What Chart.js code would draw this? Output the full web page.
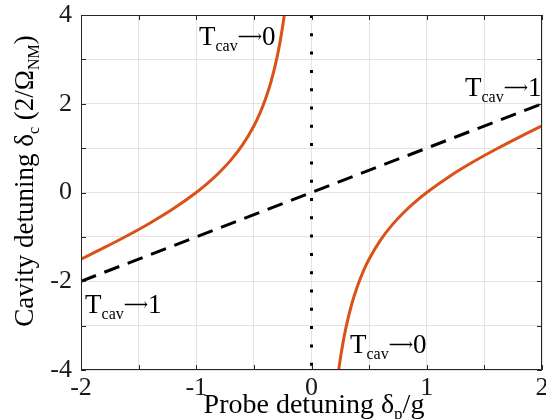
<!DOCTYPE html>
<html><head><meta charset="utf-8">
<script src="https://cdn.jsdelivr.net/npm/chart.js@4/dist/chart.umd.min.js"></script>
<style>html,body{margin:0;padding:0;background:#fff}#wrap{width:546px;height:419px}</style>
</head><body><div id="wrap"><canvas id="c" width="546" height="419"></canvas></div>
<script>
// Orange curve (two branches)
const leftX  = [-2, -1.8, -1.6, -1.4, -1.2, -1, -0.9, -0.8, -0.7, -0.6, -0.5, -0.45, -0.4, -0.35, -0.3, -0.27, -0.25, -0.236];
const leftY  = [-1.5, -1.244, -0.975, -0.686, -0.367, 0, 0.211, 0.45, 0.729, 1.067, 1.5, 1.772, 2.1, 2.507, 3.033, 3.434, 3.75, 4.0];
const rightX = [0.236, 0.25, 0.27, 0.3, 0.35, 0.4, 0.45, 0.5, 0.6, 0.7, 0.8, 0.9, 1, 1.2, 1.4, 1.6, 1.8, 2];
const rightY = [-4.0, -3.75, -3.434, -3.033, -2.507, -2.1, -1.772, -1.5, -1.067, -0.729, -0.45, -0.211, 0, 0.367, 0.686, 0.975, 1.244, 1.5];
// Dashed line
const dashX = [-2, 2];
const dashY = [-2, 2];
// Dotted vertical line
const dotX = [0, 0];
const dotY = [4, -4];
// Tick labels
const xTickLabels = [-2, -1, 0, 1, 2];
const yTickLabels = [-4, -2, 0, 2, 4];
// Annotations: [x, y, tail]
const annotations = [
  [-0.976, 3.324, '0'],
  [1.332, 2.175, '1'],
  [-1.965, -2.715, '1'],
  [0.334, -3.617, '0']
];

const FONT = '"Liberation Serif", "Times New Roman", serif';
const pts = (xs, ys) => xs.map((x, i) => ({x, y: ys[i]}));

function drawParts(ctx, x, y, parts) {
  let cx = x;
  for (const p of parts) {
    ctx.font = p.size + 'px ' + (p.font || FONT);
    ctx.fillText(p.t, cx, y + (p.dy || 0));
    cx += ctx.measureText(p.t).width;
  }
  return cx - x;
}
function partsWidth(ctx, parts) {
  let w = 0;
  for (const p of parts) { ctx.font = p.size + 'px ' + (p.font || FONT); w += ctx.measureText(p.t).width; }
  return w;
}

const decor = {
  id: 'decor',
  afterDatasetsDraw(chart) {
    const ctx = chart.ctx, a = chart.chartArea, xs = chart.scales.x, ys = chart.scales.y;
    ctx.save();
    // frame and inner ticks
    ctx.strokeStyle = '#262626';
    ctx.lineWidth = 1;
    ctx.beginPath();
    ctx.rect(a.left + 0.5, a.top + 0.5, a.right - a.left - 1, a.bottom - a.top - 1);
    ctx.stroke();
    ctx.beginPath();
    for (let v = -2; v <= 2.001; v += 0.5) {
      const px = Math.round(xs.getPixelForValue(v)) + 0.5;
      ctx.moveTo(px, a.bottom); ctx.lineTo(px, a.bottom - 5);
      ctx.moveTo(px, a.top); ctx.lineTo(px, a.top + 5);
    }
    for (let v = -4; v <= 4.001; v += 1) {
      const py = Math.round(ys.getPixelForValue(v)) + 0.5;
      ctx.moveTo(a.left, py); ctx.lineTo(a.left + 5, py);
      ctx.moveTo(a.right, py); ctx.lineTo(a.right - 5, py);
    }
    ctx.stroke();
    // annotations
    ctx.fillStyle = '#000';
    ctx.textBaseline = 'alphabetic';
    ctx.textAlign = 'left';
    for (const [x, y, tail] of annotations) {
      drawParts(ctx, xs.getPixelForValue(x), ys.getPixelForValue(y), [
        {t: 'T', size: 27}, {t: 'cav', size: 16, dy: 6},
        {t: '\u27F6', size: 17, dy: -3, font: '"DejaVu Serif", "DejaVu Sans", serif'},
        {t: tail, size: 27}
      ]);
    }
    // x title
    const xParts = [{t: 'Probe detuning \u03B4', size: 28}, {t: 'p', size: 17, dy: 6}, {t: '/g', size: 28}];
    const xw = partsWidth(ctx, xParts);
    drawParts(ctx, 314 - xw / 2, 413, xParts);
    // y title
    const yParts = [{t: 'Cavity detuning \u03B4', size: 27}, {t: 'c', size: 16, dy: 6}, {t: ' (2/\u03A9', size: 27}, {t: 'NM', size: 16, dy: 6}, {t: ')', size: 27}];
    const yw = partsWidth(ctx, yParts);
    ctx.translate(33, 181);
    ctx.rotate(-Math.PI / 2);
    drawParts(ctx, -yw / 2, 0, yParts);
    ctx.restore();
  }
};

new Chart(document.getElementById('c'), {
  type: 'scatter',
  data: {
    datasets: [
      {data: pts(dotX, dotY), showLine: true, borderColor: '#000', borderWidth: 3, borderDash: [3, 15.3], pointRadius: 0, borderCapStyle: 'butt'},
      {data: pts(dashX, dashY), showLine: true, borderColor: '#000', borderWidth: 3, borderDash: [16, 9], pointRadius: 0},
      {data: pts(leftX, leftY), showLine: true, borderColor: '#D95319', borderWidth: 3, pointRadius: 0, cubicInterpolationMode: 'monotone'},
      {data: pts(rightX, rightY), showLine: true, borderColor: '#D95319', borderWidth: 3, pointRadius: 0, cubicInterpolationMode: 'monotone'}
    ]
  },
  options: {
    responsive: false,
    animation: false,
    events: [],
    layout: {padding: {top: 15, right: 4, left: 0, bottom: 0}},
    plugins: {legend: {display: false}, tooltip: {enabled: false}},
    scales: {
      x: {
        type: 'linear', min: -2, max: 2,
        border: {display: false},
        grid: {color: '#e3e3e3', drawTicks: false, lineWidth: 1},
        ticks: {stepSize: 0.5, padding: 3, color: '#1a1a1a', font: {family: FONT, size: 26},
          maxRotation: 0, autoSkip: false,
          callback: v => xTickLabels.includes(v) ? String(v) : ''},
        afterFit(s) { s.height = 49; s.paddingLeft = 0; s.paddingRight = 0; }
      },
      y: {
        type: 'linear', min: -4, max: 4,
        border: {display: false},
        grid: {color: '#e3e3e3', drawTicks: false, lineWidth: 1},
        ticks: {stepSize: 1, padding: 9, color: '#1a1a1a', font: {family: FONT, size: 26}, autoSkip: false,
          callback: v => yTickLabels.includes(v) ? String(v) : ''},
        afterFit(s) { s.width = 81; s.paddingTop = 0; s.paddingBottom = 0; }
      }
    }
  },
  plugins: [decor]
});
</script></body></html>
